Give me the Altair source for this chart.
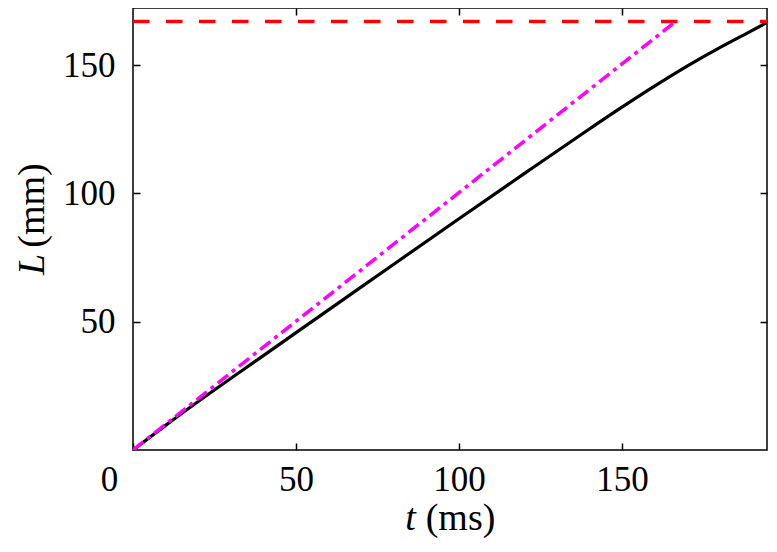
import altair as alt
import pandas as pd

# measured curve: L (mm) vs t (ms)
t_black = [0, 10, 20, 40, 60, 80, 100, 120, 140, 150, 160, 170, 180, 188, 194.5]
L_black = [0, 9.6, 18.9, 36.8, 54.6, 72.4, 90.1, 107.7, 125.1, 133.6, 141.8, 149.6, 156.8, 162.2, 166.6]
# straight prediction line (dash-dot)
t_pred = [0, 166.5]
L_pred = [0, 167]
# maximum length (dashed)
t_max = [0, 194.5]
L_max = [167, 167]

x_ticks = [0, 50, 100, 150]
x_ticks_top = [50, 100, 150]
y_ticks = [50, 100, 150]
x_domain = [0, 194.5]
y_domain = [0, 172.25]

FONT = "Liberation Serif"

df_black = pd.DataFrame({"t": t_black, "L": L_black})
df_pred = pd.DataFrame({"t": t_pred, "L": L_pred})
df_max = pd.DataFrame({"t": t_max, "L": L_max})

xs = alt.Scale(domain=x_domain, nice=False, zero=False)
ys = alt.Scale(domain=y_domain, nice=False, zero=False)

common = dict(offset=-7, domain=False, grid=False, tickSize=7, tickWidth=1.5,
              tickColor="black", titleFont=FONT, titleFontSize=38,
              titleFontWeight="normal", titleColor="black", titleAlign="center",
              titleBaseline="alphabetic")

ax_bottom = alt.Axis(orient="bottom", values=x_ticks, labelFont=FONT, labelFontSize=35,
                     labelColor="black", labelBaseline="alphabetic", labelPadding=40,
                     labelFlush=False, labelOverlap=False,
                     labelOffset={"condition": {"test": "datum.value == 0", "value": -24}, "value": 0},
                     title="(ms)", titleX=327, titleY=86, titleAngle=0, **common)
ax_left = alt.Axis(orient="left", values=y_ticks, labelFont=FONT, labelFontSize=35,
                   labelColor="black", labelPadding=18, labelOverlap=False,
                   title="(mm)", titleX=-97, titleY=197, titleAngle=270, **common)
ax_top = alt.Axis(orient="top", values=x_ticks_top, labels=False, title="t",
                  titleFontStyle="italic", titleX=277, titleY=514, titleAngle=0, **common)
ax_right = alt.Axis(orient="right", values=y_ticks, labels=False, title="L",
                    titleFontStyle="italic", titleX=-717, titleY=256, titleAngle=270, **common)

black = alt.Chart(df_black).mark_line(color="black", strokeWidth=3.2, interpolate="monotone", clip=True).encode(
    x=alt.X("t:Q", scale=xs, axis=ax_bottom),
    y=alt.Y("L:Q", scale=ys, axis=ax_left),
)
pred = alt.Chart(df_pred).mark_line(color="#FF00FF", strokeWidth=3.5, strokeDash=[13, 5, 4, 5], clip=True).encode(
    x=alt.X("t:Q", scale=xs, axis=ax_top),
    y=alt.Y("L:Q", scale=ys, axis=ax_right),
)
mx = alt.Chart(df_max).mark_line(color="#FF0000", strokeWidth=3.5, strokeDash=[16.5, 16.5], clip=True).encode(
    x=alt.X("t:Q", scale=xs, axis=None),
    y=alt.Y("L:Q", scale=ys, axis=None),
)

chart = alt.layer(black, pred, mx).resolve_axis(x="independent", y="independent").properties(
    width=634, height=442,
    autosize=alt.AutoSizeParams(type="none"),
    padding={"left": 125, "top": 0, "right": 2, "bottom": 88},
    background="white",
).configure_view(stroke="black", strokeWidth=1.5)

chart.save("out.html", embed_options={"renderer": "svg", "actions": False})
